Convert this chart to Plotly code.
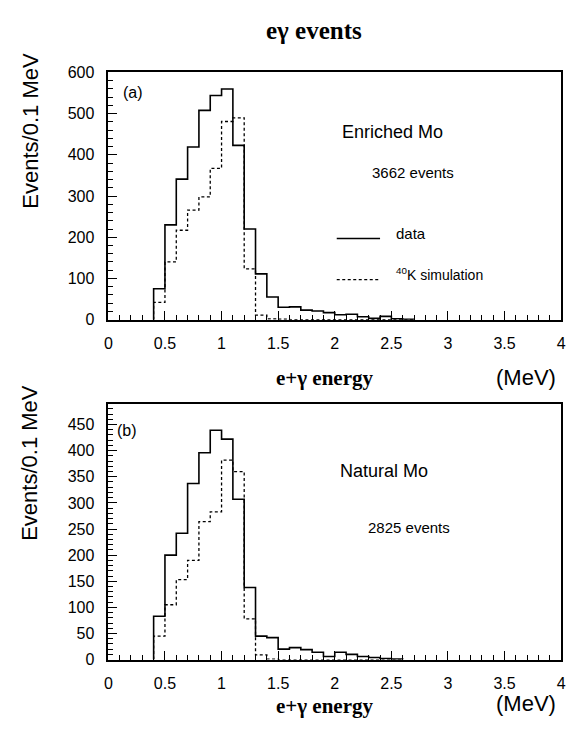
import plotly.graph_objects as go

# Bin lower edges (MeV), bin width 0.1 MeV
bin_lo_a = [0.4, 0.5, 0.6, 0.7, 0.8, 0.9, 1.0, 1.1, 1.2, 1.3, 1.4, 1.5, 1.6, 1.7,
            1.8, 1.9, 2.0, 2.1, 2.2, 2.3, 2.4, 2.5, 2.6]
data_a = [75, 230, 341, 419, 508, 544, 560, 423, 220, 111, 55, 30, 31, 23,
          21, 17, 12, 13, 7, 3, 8, 2, 1]
sim_a = [42, 140, 217, 266, 298, 367, 481, 490, 123, 11, 2, 1, 0, 0,
         0, 0, 0, 0, 0, 0, 0, 0, 0]

bin_lo_b = [0.4, 0.5, 0.6, 0.7, 0.8, 0.9, 1.0, 1.1, 1.2, 1.3, 1.4, 1.5, 1.6, 1.7,
            1.8, 1.9, 2.0, 2.1, 2.2, 2.3, 2.4, 2.5]
data_b = [83, 200, 242, 337, 396, 439, 422, 307, 138, 45, 42, 20, 23, 19,
          14, 6, 14, 10, 6, 4, 2, 1]
sim_b = [45, 105, 153, 190, 264, 283, 382, 360, 78, 9, 1, 0, 0, 0,
         0, 0, 0, 0, 0, 0, 0, 0]

bin_width = 0.1

x_ticks = [0, 0.5, 1, 1.5, 2, 2.5, 3, 3.5, 4]
x_ticklabels = ["0", "0.5", "1", "1.5", "2", "2.5", "3", "3.5", "4"]
y_ticks_a = [0, 100, 200, 300, 400, 500, 600]
y_ticks_b = [0, 50, 100, 150, 200, 250, 300, 350, 400, 450]

W, H = 578, 736


def step(lo, vals):
    xs = [lo[0]] + list(lo) + [lo[-1] + bin_width]
    ys = [0] + list(vals) + [0]
    return xs, ys


def px(v):
    return v / W


def py(v):
    return 1 - v / H


fig = go.Figure()

for lo, d, s, xa, ya in [(bin_lo_a, data_a, sim_a, "x", "y"),
                         (bin_lo_b, data_b, sim_b, "x2", "y2")]:
    xs, ys = step(lo, s)
    fig.add_trace(go.Scatter(x=xs, y=ys, mode="lines", line_shape="hv",
                             line=dict(color="black", width=1.3, dash="3px,2.5px"),
                             xaxis=xa, yaxis=ya, showlegend=False))
    xs, ys = step(lo, d)
    fig.add_trace(go.Scatter(x=xs, y=ys, mode="lines", line_shape="hv",
                             line=dict(color="black", width=1.6),
                             xaxis=xa, yaxis=ya, showlegend=False))

tickfont = dict(family="Liberation Sans, Arial, sans-serif", size=16, color="black")

xcommon = dict(range=[0, 4], tickvals=x_ticks, ticktext=x_ticklabels,
               ticks="inside", ticklen=9, tickwidth=1.2, tickcolor="black",
               minor=dict(dtick=0.1, ticks="inside", ticklen=5, tickwidth=1, tickcolor="black"),
               showline=True, linecolor="black", linewidth=1.5, mirror=True,
               showgrid=False, zeroline=False, tickfont=tickfont,
               ticklabelstandoff=8, domain=[px(106), px(566)])

fig.update_layout(
    width=W, height=H,
    margin=dict(l=0, r=0, t=0, b=0),
    paper_bgcolor="white", plot_bgcolor="white",
    xaxis=dict(anchor="y", **xcommon),
    xaxis2=dict(anchor="y2", **xcommon),
    yaxis=dict(anchor="x", range=[0, 600], tickvals=y_ticks_a,
               ticks="inside", ticklen=9, tickwidth=1.2, tickcolor="black",
               minor=dict(dtick=20, ticks="inside", ticklen=5, tickwidth=1, tickcolor="black"),
               showline=True, linecolor="black", linewidth=1.5, mirror=True,
               showgrid=False, zeroline=False, tickfont=tickfont,
               ticklabelstandoff=9, domain=[py(319), py(66)]),
    yaxis2=dict(anchor="x2", range=[0, 490], tickvals=y_ticks_b,
                ticks="inside", ticklen=9, tickwidth=1.2, tickcolor="black",
                minor=dict(dtick=10, ticks="inside", ticklen=5, tickwidth=1, tickcolor="black"),
                showline=True, linecolor="black", linewidth=1.5, mirror=True,
                showgrid=False, zeroline=False, tickfont=tickfont,
                ticklabelstandoff=9, domain=[py(667), py(405)]),
)

sans = "Liberation Sans, Arial, sans-serif"
serif = "Liberation Serif, Times New Roman, serif"


def ann(text, x, y, size, family=sans, xanchor="center", yanchor="middle", angle=0, bold=False):
    if bold:
        text = "<b>" + text + "</b>"
    fig.add_annotation(text=text, x=px(x), y=py(y), xref="paper", yref="paper",
                       showarrow=False, xanchor=xanchor, yanchor=yanchor,
                       textangle=angle,
                       font=dict(family=family, size=size, color="black"))


ann("eγ events", 315, 23, 25, family=serif, bold=True)

ann("Events/0.1 MeV", 26, 126, 22, angle=-90)
ann("Events/0.1 MeV", 26, 466, 22, angle=-90)

ann("e+γ energy", 326, 379, 21, family=serif, bold=True)
ann("e+γ energy", 326, 714, 21, family=serif, bold=True)
ann("(MeV)", 530, 378, 22)
ann("(MeV)", 530, 712, 22)

ann("(a)", 131, 87, 16)
ann("(b)", 125, 432, 16)

ann("Enriched Mo", 395, 127, 18)
ann("3662 events", 415, 168, 15)
ann("data", 396, 231, 15, xanchor="left")
ann("<sup>40</sup>K simulation", 396, 272, 14, xanchor="left")

ann("Natural Mo", 386, 474, 18)
ann("2825 events", 411, 532, 15)


# legend sample lines (in axis-domain coordinates of panel a)
def dom_x(p):
    return (p - 106) / (566 - 106)


def dom_y(p):
    return (319 - p) / (319 - 66)


fig.add_shape(type="line", xref="x domain", yref="y domain",
              x0=dom_x(338), x1=dom_x(382), y0=dom_y(236), y1=dom_y(236),
              line=dict(color="black", width=1.5))
fig.add_shape(type="line", xref="x domain", yref="y domain",
              x0=dom_x(338), x1=dom_x(382), y0=dom_y(278), y1=dom_y(278),
              line=dict(color="black", width=1.3, dash="3px,2.5px"))

fig.write_html("out.html")
